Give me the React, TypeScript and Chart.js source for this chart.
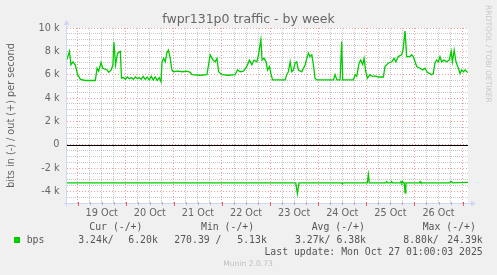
import React, { useEffect, useRef } from "react";
import { Chart, registerables } from "chart.js";

Chart.register(...registerables);

// hours since 19 Oct 00:00, value in kbit/s
const outSeries: [number, number][] = [
  [-5.3, 7.3], [-4.1, 8.0], [-3.3, 6.85], [-2.3, 7.1], [-1.2, 6.85], [0, 6.0], [1.4, 5.6], [3.8, 5.5],
  [8.8, 5.5], [9.7, 6.55], [10.5, 6.3], [11.7, 7.05], [12.5, 6.55], [14.7, 6.4], [15.5, 6.2], [16.8, 6.4],
  [17.6, 6.85], [18.1, 8.8], [18.9, 6.85], [19.9, 7.85], [21.3, 8.0], [21.9, 5.7], [22.8, 5.75], [23.8, 5.6],
  [24.8, 5.8], [25.8, 5.65], [26.8, 5.75], [27.8, 5.6], [28.8, 5.8], [29.8, 5.65], [30.7, 5.75], [31.7, 5.6],
  [32.7, 5.85], [33.7, 5.6], [34.7, 5.8], [35.7, 5.55], [36.7, 5.85], [37.7, 5.55], [38.7, 5.8], [39.7, 5.5],
  [40.7, 5.75], [41.6, 5.4], [42.1, 7.1], [42.9, 7.4], [43.7, 7.1], [44.5, 7.85], [45.3, 8.1], [46.2, 7.4],
  [47.0, 6.4], [47.8, 6.25], [50.2, 6.3], [52.2, 6.25], [54.5, 6.3], [56.2, 6.2], [57.0, 6.0], [61.1, 5.95],
  [64.5, 6.0], [65.3, 6.85], [66.1, 7.7], [67.5, 7.25], [68.6, 7.1], [69.5, 7.4], [70.3, 6.25], [72.0, 6.0],
  [75.1, 5.95], [78.6, 6.0], [79.7, 6.4], [81.1, 6.25], [82.7, 6.3], [84.4, 6.7], [85.7, 7.25], [86.9, 6.85],
  [88.0, 7.25], [89.4, 7.1], [90.2, 7.7], [91.4, 9.0], [92.0, 7.25], [93.0, 7.4], [94.0, 7.1], [94.7, 6.4],
  [95.7, 6.7], [96.4, 6.1], [97.2, 5.55], [103.5, 5.55], [104.3, 6.0], [105.1, 6.25], [106.0, 7.1], [106.8, 6.25],
  [107.6, 6.4], [108.5, 7.0], [109.3, 7.1], [110.1, 6.4], [111.8, 6.25], [113.5, 6.85], [114.3, 7.4], [115.1, 7.85],
  [115.9, 7.55], [116.8, 7.7], [117.6, 6.85], [118.4, 5.7], [119.3, 5.55], [127.6, 5.55], [128.4, 6.0], [129.3, 5.55],
  [130.9, 5.55], [131.7, 8.85], [132.2, 5.55], [137.5, 5.55], [138.4, 6.0], [139.2, 5.85], [140.4, 7.0], [141.2, 7.25],
  [142.2, 6.85], [142.9, 7.4], [143.7, 6.25], [144.5, 5.7], [145.8, 6.0], [147.0, 5.85], [148.3, 5.9], [150.0, 5.8],
  [152.5, 5.8], [153.3, 6.7], [155.0, 7.0], [156.7, 7.1], [157.8, 7.4], [158.8, 7.1], [159.9, 7.55], [161.6, 7.7],
  [162.4, 8.25], [163.3, 9.75], [164.1, 7.55], [165.8, 7.55], [166.6, 7.7], [167.4, 7.55], [168.3, 7.1], [169.1, 6.7],
  [170.8, 6.55], [172.1, 6.4], [173.2, 6.55], [174.4, 6.2], [176.6, 6.0], [177.4, 6.1], [178.2, 7.0], [179.1, 7.25],
  [179.9, 7.1], [180.7, 7.55], [181.6, 7.1], [182.7, 7.25], [184.1, 7.1], [185.3, 7.25], [186.3, 8.0], [186.9, 7.1],
  [187.8, 8.1], [188.7, 7.1], [189.9, 6.55], [190.7, 6.1], [191.6, 6.4], [192.4, 6.25], [193.2, 6.4], [194.1, 6.25],
  [194.7, 6.2],
];

// bits in (drawn negative)
const inSeries: [number, number][] = [
  [-5.3, 3.27], [108.8, 3.27], [109.6, 4.2], [110.4, 3.27], [131.6, 3.27], [132.0, 3.36], [132.4, 3.27],
  [144.5, 3.27], [145.0, 2.56], [145.5, 3.27], [153.8, 3.27], [154.2, 3.16], [154.7, 3.27], [156.2, 3.27],
  [156.6, 3.16], [157.0, 3.27], [160.9, 3.27], [161.3, 3.16], [161.7, 3.27], [162.1, 3.16], [162.5, 3.27],
  [162.9, 3.27], [163.3, 4.13], [163.7, 3.27], [170.4, 3.27], [170.8, 3.16], [171.2, 3.27], [185.6, 3.27],
  [186.0, 3.18], [186.6, 3.18], [187.0, 3.27], [194.7, 3.24],
];

const dayLabels = ["19 Oct", "20 Oct", "21 Oct", "22 Oct", "23 Oct", "24 Oct", "25 Oct", "26 Oct"];
const legendHeaders = ["Cur (-/+)", "Min (-/+)", "Avg (-/+)", "Max (-/+)"];
const legendValues = ["3.24k/", "6.20k", "270.39 /", "5.13k", "3.27k/", "6.38k", "8.80k/", "24.39k"];
const seriesName = "bps";
const titleText = "fwpr131p0 traffic - by week";
const yAxisTitle = "bits in (-) / out (+) per second";
const lastUpdate = "Last update: Mon Oct 27 01:00:03 2025";
const watermark = "RRDTOOL / TOBI OETIKER";
const footer = "Munin 2.0.73";

const X_MIN = -5.3;
const X_MAX = 194.7;
const Y_MIN = -5000;
const Y_MAX = 10000;

const GREEN = "#00CC00";
const FONT_COL = "#666666";
const AXIS_COL = "#CFD6F8";
const MAJOR = "rgba(222,79,79,0.55)";
const MINOR = "rgba(143,143,143,0.5)";
const SANS = "'DejaVu Sans', sans-serif";
const MONO = "'DejaVu Sans Mono', monospace";

const muninPlugin = {
  id: "munin",
  beforeDraw(chart: any) {
    const { ctx, chartArea: a } = chart;
    ctx.save();
    ctx.fillStyle = "#F0F0F0";
    ctx.fillRect(0, 0, chart.width, chart.height);
    ctx.fillStyle = "#FFFFFF";
    ctx.fillRect(a.left, a.top, a.right - a.left, a.bottom - a.top);
    ctx.restore();
  },
  beforeDatasetsDraw(chart: any) {
    const { ctx, chartArea: a, scales } = chart;
    const y0 = Math.round(scales.y.getPixelForValue(0)) + 0.5;
    ctx.save();
    ctx.strokeStyle = "#000000";
    ctx.lineWidth = 1;
    ctx.beginPath();
    ctx.moveTo(a.left, y0);
    ctx.lineTo(a.right, y0);
    ctx.stroke();
    ctx.restore();
  },
  afterDraw(chart: any) {
    const { ctx, chartArea: a, scales } = chart;
    ctx.save();
    // axes
    ctx.strokeStyle = AXIS_COL;
    ctx.fillStyle = AXIS_COL;
    ctx.lineWidth = 1;
    const ax = a.left - 0.5;
    const ay = a.bottom + 0.5;
    ctx.beginPath();
    ctx.moveTo(ax, a.bottom + 3);
    ctx.lineTo(ax, a.top - 4);
    ctx.moveTo(a.left - 3, ay);
    ctx.lineTo(a.right + 4, ay);
    ctx.stroke();
    ctx.beginPath();
    ctx.moveTo(ax - 3, a.top - 3);
    ctx.lineTo(ax + 3, a.top - 3);
    ctx.lineTo(ax, a.top - 8);
    ctx.closePath();
    ctx.fill();
    ctx.beginPath();
    ctx.moveTo(a.right + 3, ay - 3);
    ctx.lineTo(a.right + 3, ay + 3);
    ctx.lineTo(a.right + 8, ay);
    ctx.closePath();
    ctx.fill();
    // x tick marks
    for (let h = 0; h <= X_MAX; h += 6) {
      const px = Math.round(scales.x.getPixelForValue(h)) + 0.5;
      const major = h % 24 === 0;
      ctx.strokeStyle = major ? "rgba(222,79,79,0.9)" : "rgba(143,143,143,0.6)";
      ctx.beginPath();
      ctx.moveTo(px, a.bottom - 1);
      ctx.lineTo(px, a.bottom + (major ? 3 : 2));
      ctx.stroke();
    }
    // title
    ctx.fillStyle = FONT_COL;
    ctx.font = `12.5px ${SANS}`;
    ctx.textAlign = "center";
    ctx.textBaseline = "alphabetic";
    ctx.fillText(titleText, 248.5, 23);
    // y axis title
    ctx.save();
    ctx.translate(11.5, (a.top + a.bottom) / 2);
    ctx.rotate(-Math.PI / 2);
    ctx.font = `9.7px ${SANS}`;
    ctx.textBaseline = "middle";
    ctx.textAlign = "center";
    ctx.fillText(yAxisTitle, 0, 0);
    ctx.restore();
    // watermark
    ctx.save();
    ctx.translate(488, 5);
    ctx.rotate(Math.PI / 2);
    ctx.font = `7.6px ${SANS}`;
    ctx.fillStyle = "#C8C8C8";
    ctx.textAlign = "left";
    ctx.textBaseline = "middle";
    ctx.fillText(watermark, 0, 0);
    ctx.restore();
    // legend
    ctx.fillStyle = GREEN;
    ctx.fillRect(14, 237, 6, 6);
    ctx.fillStyle = "#555555";
    ctx.font = `9.8px ${MONO}`;
    ctx.textAlign = "left";
    ctx.textBaseline = "middle";
    const hx = [89.3, 201, 311.7, 422.7];
    legendHeaders.forEach((t, i) => ctx.fillText(t, hx[i], 227.5));
    ctx.fillText(seriesName, 26.7, 240);
    const vx = [78.3, 128.3, 174.3, 237.3, 295, 336.5, 403.3, 447.3];
    legendValues.forEach((t, i) => ctx.fillText(t, vx[i], 240));
    ctx.textAlign = "right";
    ctx.fillText(lastUpdate, 482.7, 252);
    ctx.textAlign = "center";
    ctx.fillStyle = "#C0C0C0";
    ctx.font = `7.6px ${SANS}`;
    ctx.fillText(footer, 248, 264);
    ctx.restore();
  },
};

export default function App() {
  const ref = useRef<HTMLCanvasElement>(null);
  useEffect(() => {
    const canvas = ref.current!;
    const chart = new Chart(canvas, {
      type: "line",
      data: {
        datasets: [
          {
            label: "out",
            data: outSeries.map(([h, k]) => ({ x: h, y: k * 1000 })),
            borderColor: GREEN,
            borderWidth: 1.3,
            pointRadius: 0,
            fill: false,
            tension: 0,
          },
          {
            label: "in",
            data: inSeries.map(([h, k]) => ({ x: h, y: -k * 1000 })),
            borderColor: GREEN,
            borderWidth: 1.3,
            pointRadius: 0,
            fill: false,
            tension: 0,
          },
        ],
      },
      options: {
        animation: false,
        responsive: false,
        devicePixelRatio: 1,
        events: [],
        layout: { padding: { left: 0, top: 28, right: 29, bottom: 0 } },
        plugins: {
          legend: { display: false },
          title: { display: false },
          tooltip: { enabled: false },
        },
        scales: {
          x: {
            type: "linear",
            min: X_MIN,
            max: X_MAX,
            afterFit: (s: any) => {
              s.height = 72;
            },
            grid: {
              color: (c: any) => (c.tick && c.tick.value % 24 === 0 ? MAJOR : MINOR),
              lineWidth: 1,
              drawTicks: false,
            },
            border: {
              display: false,
              dash: (c: any) => (c.tick && c.tick.value % 24 === 0 ? [1, 2] : [1, 1]),
            },
            ticks: {
              stepSize: 6,
              includeBounds: false,
              autoSkip: false,
              maxRotation: 0,
              minRotation: 0,
              padding: 4.5,
              color: FONT_COL,
              font: { family: SANS, size: 9.7 },
              callback: (v: any) => {
                const n = Number(v);
                if (((n % 24) + 24) % 24 !== 12) return "";
                const d = Math.floor(n / 24);
                return dayLabels[d] ?? "";
              },
            },
          },
          y: {
            type: "linear",
            min: Y_MIN,
            max: Y_MAX,
            afterFit: (s: any) => {
              s.width = 67;
            },
            grid: {
              color: (c: any) => (c.tick && c.tick.value % 2000 === 0 ? MAJOR : MINOR),
              lineWidth: 1,
              drawTicks: false,
            },
            border: {
              display: false,
              dash: (c: any) => (c.tick && c.tick.value % 2000 === 0 ? [1, 2] : [1, 1]),
            },
            ticks: {
              stepSize: 500,
              autoSkip: false,
              padding: 7.5,
              color: FONT_COL,
              font: { family: SANS, size: 9.7 },
              callback: (v: any) => {
                const n = Number(v);
                if (n % 2000 !== 0) return "";
                return n === 0 ? "0" : `${n / 1000} k`;
              },
            },
          },
        },
      },
      plugins: [muninPlugin],
    } as any);
    return () => chart.destroy();
  }, []);
  return (
    <div style={{ position: "absolute", left: 0, top: 0, width: 497, height: 275, background: "#F0F0F0" }}>
      <canvas ref={ref} width={497} height={275} style={{ display: "block", width: 497, height: 275 }} />
    </div>
  );
}
